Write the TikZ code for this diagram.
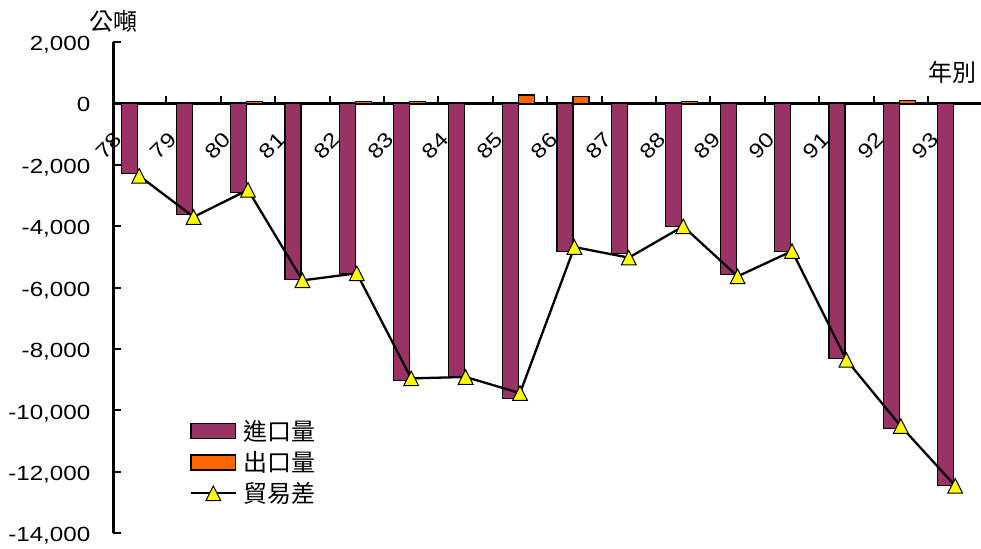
\documentclass[tikz,border=0pt]{standalone}
\usepackage{fontspec}
\setmainfont{Liberation Sans}[FakeStretch=1.18]
\newfontfamily\cjk{Noto Sans CJK TC}
\definecolor{plum}{HTML}{993366}
\definecolor{orng}{HTML}{FF6600}
\definecolor{yel}{HTML}{FFFF00}
\begin{document}
\begin{tikzpicture}[x=1pt,y=-1pt,
  bar/.style={draw=black,line width=1.1pt},
  impbar/.style={bar,fill=plum},
  expbar/.style={bar,fill=orng},
  axisline/.style={line width=2.6pt},
  tickline/.style={line width=2pt},
  trend/.style={line width=2.3pt,line join=round},
  tri/.style={fill=yel,draw=black,line width=1pt,line join=miter},
  ylab/.style={font=\fontsize{20.5}{24}\selectfont,anchor=base east,inner sep=0pt},
  xlab/.style={font=\fontsize{20.5}{24}\selectfont,rotate=45,inner sep=0pt},
  cjklab/.style={font=\cjk\fontsize{24}{28}\selectfont,inner sep=0pt}
]
\useasboundingbox (0,0) rectangle (981,548);
\fill[white] (0,0) rectangle (981,548);

% unit labels
\node[cjklab] (unit) at (113,21) {公噸};
\node[cjklab] (year) at (952.5,72.5) {年別};

% x labels (under bars)
\foreach \t [count=\k from 0] in {78,79,80,81,82,83,84,85,86,87,88,89,90,91,92,93}{
  \node[xlab] (xl\k) at ({112+54.4*\k-3},146) {\t};
}

% y labels and ticks
\foreach \v/\t [count=\i from 0] in {2000/{2,000},0/0,-2000/{-2,000},-4000/{-4,000},-6000/{-6,000},-8000/{-8,000},-10000/{-10,000},-12000/{-12,000},-14000/{-14,000}}{
  \pgfmathsetmacro\yy{103.3-0.03071*\v}
  \node[ylab] (yl\i) at (90.5,{\yy+8.6}) {\t};
  \draw[tickline] (113.3,\yy) -- (120.5,\yy);
}

% axes
\draw[axisline] (113.3,41.9) -- (113.3,533.3);
\draw[axisline] (112,103.3) -- (981,103.3);
\foreach \k in {1,...,16}{
  \draw[tickline] ({112+54.4*\k},103.3) -- ({112+54.4*\k},96.5);
}

% bars and data points
\foreach \imp/\exq/\bal [count=\k from 0] in {
  2280/0/-2360, 3615/0/-3700, 2900/50/-2820, 5740/0/-5765,
  5545/50/-5535, 9020/50/-8955, 8890/0/-8910, 9605/270/-9435,
  4835/210/-4680, 4900/0/-5025, 4005/50/-4005, 5570/0/-5635,
  4835/0/-4810, 8305/0/-8355, 10600/100/-10510, 12440/0/-12455}{
  \pgfmathsetmacro\cl{112+54.4*\k}
  \pgfmathsetmacro\yb{103.3+0.03071*\imp}
  \draw[impbar] ({\cl+9.8},103.3) rectangle ({\cl+25.8},\yb);
  \ifnum\exq>0
    \pgfmathsetmacro\ye{103.3-0.03071*\exq}
    \draw[expbar] ({\cl+25.8},103.3) rectangle ({\cl+41.8},\ye);
  \fi
  \coordinate (m\k) at ({\cl+27.2},{103.3-0.03071*\bal});
}

% trend line
\draw[trend] (m0) \foreach \k in {1,...,15}{ -- (m\k)};
\foreach \k in {0,...,15}{
  \draw[tri] (m\k) ++(0,-7.3) -- ++(7.4,14.6) -- ++(-14.8,0) -- cycle;
}

% legend
\draw[impbar,line width=1.4pt] (191,423.3) rectangle (235.7,438.3);
\draw[expbar,line width=1.4pt] (191,455) rectangle (235.7,470);
\coordinate (lgA) at (191,493.3);
\coordinate (lgB) at (236,493.3);
\coordinate (lgM) at (213.3,493.3);
\draw[trend] (lgA) -- (lgB);
\draw[tri] (lgM) ++(0,-7.3) -- ++(7.4,14.6) -- ++(-14.8,0) -- cycle;
\node[cjklab,anchor=west] (lg1) at (243,431) {進口量};
\node[cjklab,anchor=west] (lg2) at (243,462.5) {出口量};
\node[cjklab,anchor=west] (lg3) at (243,493.3) {貿易差};
\end{tikzpicture}
\end{document}
